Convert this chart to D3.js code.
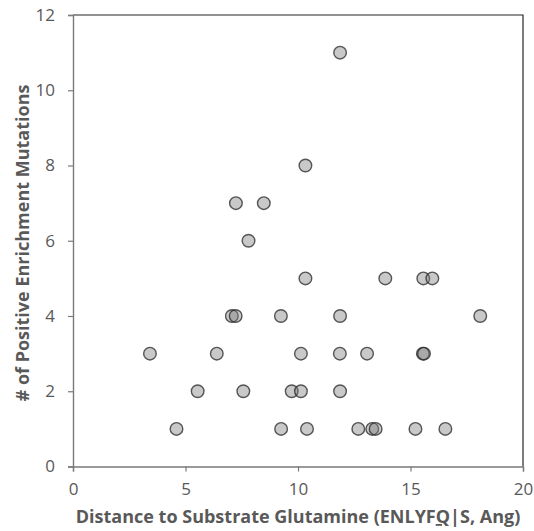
<!DOCTYPE html>
<html lang="en">
<head>
    <meta charset="UTF-8">
    <script src="https://d3js.org/d3.v7.min.js"></script>
    <title>Scatter</title>
    <style>
        body { margin: 0; background: #fff; }
    </style>
</head>
<body>
    <svg width="534" height="531" id="mainsvg"></svg>
    <script>
        // distance (Ang) and number of positive enrichment mutations
        const distances = [11.87, 10.33, 7.24, 8.48, 7.80,
            10.33, 13.88, 15.57, 15.97,
            7.06, 7.23, 9.24, 11.87, 18.10,
            3.42, 6.39, 10.13, 11.86, 13.07, 15.55, 15.60,
            5.54, 7.57, 9.72, 10.13, 11.87,
            4.60, 9.25, 10.40, 12.68, 13.30, 13.45, 15.22, 16.55];
        const counts = [11, 8, 7, 7, 6,
            5, 5, 5, 5,
            4, 4, 4, 4, 4,
            3, 3, 3, 3, 3, 3, 3,
            2, 2, 2, 2, 2,
            1, 1, 1, 1, 1, 1, 1, 1];
        const xTicks = [0, 5, 10, 15, 20];
        const yTicks = [0, 2, 4, 6, 8, 10, 12];

        const data = distances.map((d, i) => ({ x: d, y: counts[i] }));

        const svg = d3.select('#mainsvg');
        const margin = { top: 15, right: 11, bottom: 64.5, left: 73 };
        const width = +svg.attr('width');
        const height = +svg.attr('height');
        const innerWidth = width - margin.left - margin.right;
        const innerHeight = height - margin.top - margin.bottom;

        const xScale = d3.scaleLinear().domain([0, 20]).range([0, innerWidth]);
        const yScale = d3.scaleLinear().domain([0, 12]).range([innerHeight, 0]);

        const g = svg.append('g')
            .attr('transform', `translate(${margin.left}, ${margin.top})`);

        const axisColor = '#7a7a7a';
        const frameColor = '#262626';
        const textColor = '#595959';
        const font = 'Open Sans, sans-serif';

        // frame (top + right)
        g.append('path')
            .attr('d', `M0,0H${innerWidth}V${innerHeight}`)
            .attr('fill', 'none')
            .attr('stroke', frameColor)
            .attr('stroke-width', 1.2);

        const xAxis = d3.axisBottom(xScale).tickValues(xTicks).tickSize(5).tickPadding(11);
        const yAxis = d3.axisLeft(yScale).tickValues(yTicks).tickSize(5).tickPadding(13);

        const gx = g.append('g').attr('transform', `translate(0, ${innerHeight})`).call(xAxis);
        const gy = g.append('g').call(yAxis);

        [gx, gy].forEach(a => {
            a.select('.domain').attr('stroke', axisColor).attr('stroke-width', 1.4);
            a.selectAll('.tick line').attr('stroke', axisColor).attr('stroke-width', 1.2);
            a.selectAll('.tick text')
                .attr('fill', textColor)
                .attr('font-family', font)
                .attr('font-size', '17px');
        });

        // points
        g.selectAll('.pt').data(data).enter().append('circle')
            .attr('class', 'pt')
            .attr('cx', d => xScale(d.x))
            .attr('cy', d => yScale(d.y))
            .attr('r', 6.3)
            .attr('fill', '#7f7f7f')
            .attr('fill-opacity', 0.42)
            .attr('stroke', '#262626')
            .attr('stroke-opacity', 0.75)
            .attr('stroke-width', 1.4);

        // axis titles
        const xt = svg.append('text')
            .attr('x', margin.left + innerWidth / 2)
            .attr('y', 523)
            .attr('text-anchor', 'middle')
            .attr('font-family', font)
            .attr('font-weight', 'bold')
            .attr('font-size', '18px')
            .attr('fill', textColor);
        xt.append('tspan').text('Distance to Substrate Glutamine (ENLYF');
        xt.append('tspan').text('Q').attr('text-decoration', 'underline');
        xt.append('tspan').text('|S, Ang)');

        svg.append('text')
            .attr('transform', `translate(29, 243) rotate(-90)`)
            .attr('text-anchor', 'middle')
            .attr('font-family', font)
            .attr('font-weight', 'bold')
            .attr('font-size', '18px')
            .attr('fill', textColor)
            .text('# of Positive Enrichment Mutations');
    </script>
</body>
</html>
